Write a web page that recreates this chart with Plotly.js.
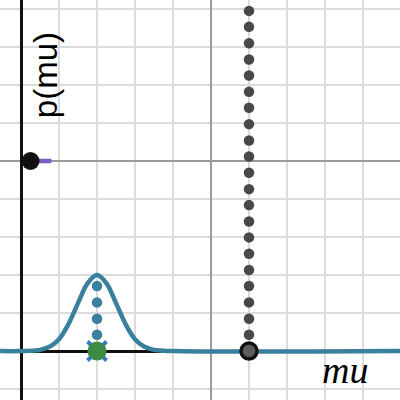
<!DOCTYPE html>
<html>
<head>
<meta charset="utf-8">
<script src="https://cdn.plot.ly/plotly-3.0.1.min.js"></script>
<style>html,body{margin:0;padding:0;background:#fff}#chart{width:400px;height:400px}</style>
</head>
<body>
<div id="chart"></div>
<script>
// Bell curve p(mu)
const curveMu = [-0.6, 0, 0.5, 0.75, 1.0, 1.25, 1.5, 1.75, 2.0, 2.25, 2.5, 2.75, 3.0, 3.25, 3.5, 4.0, 10.0];
const curveP  = [0, 0, 0.03, 0.11, 0.31, 0.71, 1.26, 1.78, 2.0, 1.78, 1.26, 0.71, 0.31, 0.11, 0.03, 0, 0];

// Dotted column under the peak
const peakDotsMu = [2, 2, 2, 2];
const peakDotsP  = [0.43, 0.85, 1.28, 1.71];

// Tall dotted column
const colDotsMu = [6,6,6,6,6,6,6,6,6,6,6,6,6,6,6,6,6,6,6,6,6];
const colDotsP  = [0.43, 0.85, 1.28, 1.71, 2.13, 2.56, 2.99, 3.41, 3.84, 4.26,
                   4.69, 5.12, 5.54, 5.97, 6.40, 6.82, 7.25, 7.67, 8.10, 8.53, 8.95];

// Single points
const greenPt = {mu: [2], p: [0]};
const bigPt   = {mu: [6], p: [0]};
const blackPt = {mu: [0.25], p: [5]};
const purpleSeg = {mu: [0.25, 0.8], p: [5, 5]};

const labels = {y: 'p(mu)', x: 'mu'};

const traces = [
  {x: curveMu, y: curveP, mode: 'lines', line: {color: '#3a7f9e', width: 4.5, shape: 'spline', smoothing: 1}, hoverinfo: 'skip'},
  {x: purpleSeg.mu, y: purpleSeg.p, mode: 'lines', line: {color: '#7a5ec0', width: 4.5}},
  {x: peakDotsMu, y: peakDotsP, mode: 'markers', marker: {color: '#3a7f9e', size: 10.5}},
  {x: colDotsMu, y: colDotsP, mode: 'markers', marker: {color: '#484848', size: 10.5}},
  {x: greenPt.mu, y: greenPt.p, mode: 'markers', marker: {symbol: 'x-thin', size: 19, color: '#3a78c8', line: {color: '#3a78c8', width: 4}}},
  {x: greenPt.mu, y: greenPt.p, mode: 'markers', marker: {color: '#3d8c46', size: 19}},
  {x: bigPt.mu, y: bigPt.p, mode: 'markers', marker: {color: '#5c5c5c', size: 16, line: {color: '#111', width: 3.5}}},
  {x: blackPt.mu, y: blackPt.p, mode: 'markers', marker: {color: '#111', size: 18}}
];

const axisCommon = {
  dtick: 5, tick0: 0,
  showgrid: true, gridcolor: '#9a9a9a', gridwidth: 1.6,
  minor: {dtick: 1, tick0: 0, showgrid: true, gridcolor: '#dcdcdc', gridwidth: 1.6},
  zeroline: true, zerolinecolor: '#111', zerolinewidth: 3,
  showticklabels: false, ticks: '', showline: false, fixedrange: true
};

const layout = {
  width: 400, height: 400,
  margin: {l: 0, r: 0, t: 0, b: 0},
  paper_bgcolor: '#fff', plot_bgcolor: '#fff',
  showlegend: false,
  xaxis: Object.assign({range: [-0.553, 9.974]}, axisCommon),
  yaxis: Object.assign({range: [-1.289, 9.237]}, axisCommon),
  annotations: [
    {text: labels.y, xref: 'paper', yref: 'paper', x: 0.113, y: 0.8125, xanchor: 'center', yanchor: 'middle',
     textangle: -90, showarrow: false,
     font: {family: 'Liberation Sans, Arial, sans-serif', size: 33, color: '#000'}},
    {text: '<i>' + labels.x + '</i>', xref: 'paper', yref: 'paper', x: 0.8625, y: 0.075, xanchor: 'center', yanchor: 'middle',
     showarrow: false,
     font: {family: 'Liberation Serif, Times New Roman, serif', size: 38, color: '#000'}}
  ]
};

Plotly.newPlot('chart', traces, layout, {staticPlot: true, displayModeBar: false});
</script>
</body>
</html>
